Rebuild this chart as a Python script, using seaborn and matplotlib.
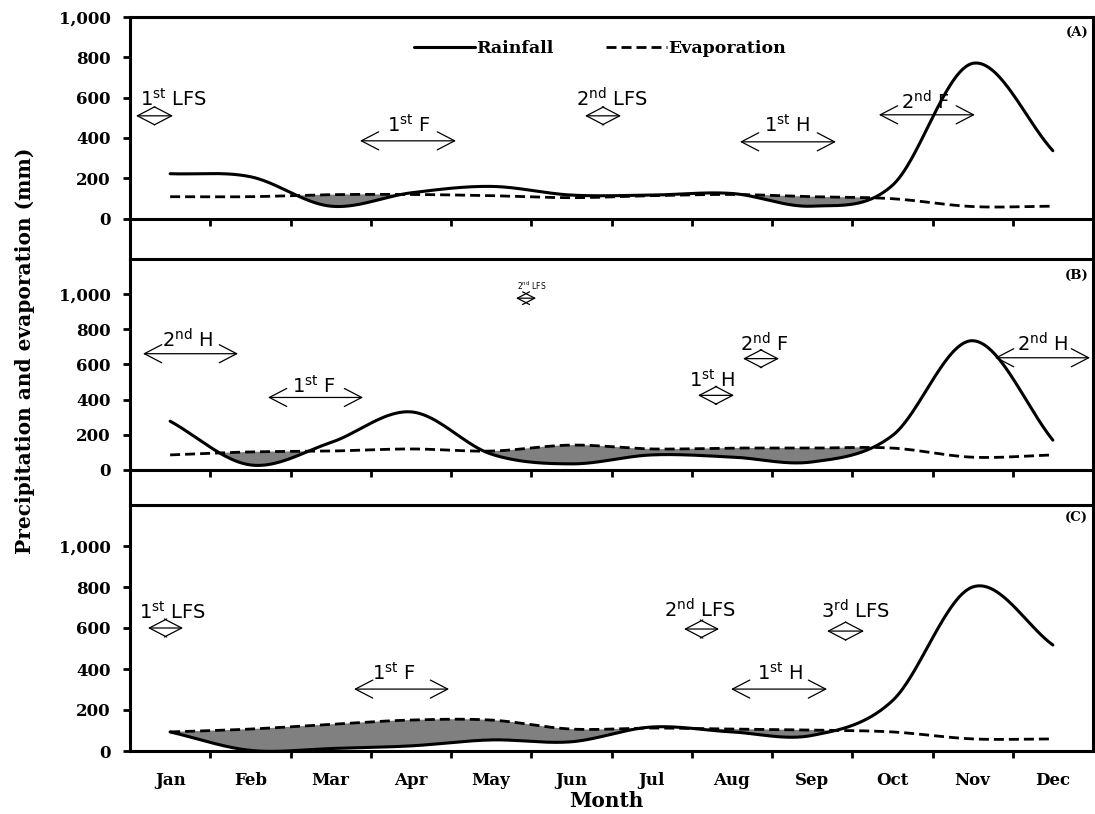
import numpy as np
import matplotlib
matplotlib.use("Agg")
import matplotlib.pyplot as plt
import seaborn as sns

# ---------------- data ----------------
months = ["Jan", "Feb", "Mar", "Apr", "May", "Jun", "Jul", "Aug", "Sep", "Oct", "Nov", "Dec"]

rain_a = [223, 208, 62, 128, 160, 117, 117, 125, 62, 165, 770, 337]
evap_a = [109, 109, 119, 120, 114, 104, 114, 120, 109, 99, 60, 62]

rain_b = [277, 28, 155, 330, 90, 34, 85, 73, 45, 195, 735, 169]
evap_b = [85, 102, 107, 119, 107, 141, 119, 124, 124, 124, 72, 85]

rain_c = [93, 3, 12, 25, 54, 45, 117, 93, 76, 245, 800, 517]
evap_c = [93, 107, 130, 151, 151, 107, 112, 107, 102, 93, 59, 59]

ytick_vals = [0, 200, 400, 600, 800, 1000]
ytick_labels = ["0", "200", "400", "600", "800", "1,000"]
panel_tags = ["(A)", "(B)", "(C)"]
legend_labels = ["Rainfall", "Evaporation"]

# crop-stage annotations: (label, text x, text baseline y, arrow start, arrow end, arrow y)
stages_a = [
    ("1$^{st}$ LFS", 0.04, 559, -0.425, 0.036, 510),
    ("1$^{st}$ F", 2.97, 431, 2.366, 3.562, 386),
    ("2$^{nd}$ LFS", 5.51, 554, 5.170, 5.619, 510),
    ("1$^{st}$ H", 7.69, 431, 7.101, 8.297, 381),
    ("2$^{nd}$ F", 9.41, 540, 8.832, 10.028, 515),
]
stages_b = [
    ("2$^{nd}$ H", 0.22, 695, -0.338, 0.846, 661),
    ("1$^{st}$ F", 1.79, 441, 1.220, 2.404, 412),
    ("2$^{nd}$ LFS", 4.51, 1023, 4.310, 4.560, 977),
    ("1$^{st}$ H", 6.75, 475, 6.578, 7.027, 424),
    ("2$^{nd}$ F", 7.40, 672, 7.139, 7.587, 633),
    ("2$^{nd}$ H", 10.87, 672, 10.279, 11.463, 638),
]
stages_c = [
    ("1$^{st}$ LFS", 0.03, 644, -0.276, 0.161, 600),
    ("1$^{st}$ F", 2.79, 346, 2.292, 3.476, 302),
    ("2$^{nd}$ LFS", 6.60, 649, 6.404, 6.840, 595),
    ("3$^{rd}$ LFS", 8.54, 644, 8.186, 8.647, 585),
    ("1$^{st}$ H", 7.60, 346, 6.990, 8.186, 302),
]


def smooth(vals, n=60):
    """Catmull-Rom style smoothing (like a spreadsheet 'smoothed line')."""
    p = np.asarray(vals, float)
    m = np.empty_like(p)
    m[1:-1] = (p[2:] - p[:-2]) / 2.0
    m[0] = (p[1] - p[0])
    m[-1] = (p[-1] - p[-2])
    xs, ys = [], []
    for i in range(len(p) - 1):
        t = np.linspace(0, 1, n, endpoint=(i == len(p) - 2))
        h00 = 2 * t**3 - 3 * t**2 + 1
        h10 = t**3 - 2 * t**2 + t
        h01 = -2 * t**3 + 3 * t**2
        h11 = t**3 - t**2
        xs.append(i + t)
        ys.append(h00 * p[i] + h10 * m[i] + h01 * p[i + 1] + h11 * m[i + 1])
    return np.concatenate(xs), np.concatenate(ys)


# ---------------- style ----------------
sns.set_theme(style="white")
plt.rcParams["font.family"] = ["DejaVu Sans"]
plt.rcParams["mathtext.default"] = "regular"
for key in ["text.color", "axes.labelcolor", "xtick.color", "ytick.color", "axes.edgecolor"]:
    plt.rcParams[key] = "black"

serif_bold = dict(family="DejaVu Serif", weight="bold")

W, H = 1095, 814
fig = plt.figure(figsize=(W / 100, H / 100), dpi=100)

left_px, right_px = 130, 1093
panels_px = [(17, 259), (259, 505), (505, 751)]
ylims = [(-200, 1000), (-200, 1200), (0, 1200)]
datasets = [(rain_a, evap_a, stages_a), (rain_b, evap_b, stages_b), (rain_c, evap_c, stages_c)]
tag_y = [0.938, 0.935, 0.951]

axes = []
for k, ((top, bot), ylim, (rain, evap, stages)) in enumerate(zip(panels_px, ylims, datasets)):
    ax = fig.add_axes([left_px / W, 1 - bot / H, (right_px - left_px) / W, (bot - top) / H])
    axes.append(ax)

    xr, yr = smooth(rain)
    xe, ye = smooth(evap)

    ax.fill_between(xr, yr, ye, where=ye > yr, interpolate=True,
                    color="#808080", lw=0, zorder=1)
    sns.lineplot(x=xr, y=yr, ax=ax, color="black", lw=2.2, estimator=None,
                 sort=False, zorder=3, label=legend_labels[0] if k == 0 else None)
    sns.lineplot(x=xe, y=ye, ax=ax, color="black", lw=2.0, estimator=None,
                 sort=False, zorder=2, label=legend_labels[1] if k == 0 else None)
    ax.lines[-1].set_dashes((3.6, 1.8))

    ax.set_xlim(-0.5, 11.5)
    ax.set_ylim(*ylim)

    for s in ax.spines.values():
        s.set_linewidth(2.2)
        s.set_color("black")
        s.set_visible(True)
    if k < 2:
        ax.spines["bottom"].set_position(("data", 0))

    ax.set_yticks(ytick_vals)
    ax.set_yticklabels(ytick_labels, fontdict=dict(size=12, color="black", **serif_bold))
    ax.tick_params(axis="y", direction="out", length=5, width=2, pad=9, left=True,
                   colors="black")

    ax.set_xticks(range(len(months)))
    ax.set_xticks(np.arange(0.5, len(months) - 1, 1.0), minor=True)
    ax.tick_params(axis="x", which="major", length=0, pad=15, colors="black")
    ax.tick_params(axis="x", which="minor", direction="out", length=5, width=2, bottom=True,
                   colors="black")
    if k == 2:
        ax.set_xticklabels(months, fontdict=dict(size=12, color="black", **serif_bold))
    else:
        ax.tick_params(axis="x", which="major", labelbottom=False)
    ax.set_xlabel("")
    ax.set_ylabel("")
    ax.grid(False)

    ax.text(0.995, tag_y[k], panel_tags[k], transform=ax.transAxes, ha="right",
            va="center", fontsize=9.5, color="black", **serif_bold)

    for (lab, tx, ty, a0, a1, ay) in stages:
        small = (a1 - a0) < 0.3
        ax.annotate("", xy=(a0, ay), xytext=(a1, ay),
                    arrowprops=dict(arrowstyle="<->,head_length=1.25,head_width=0.65",
                                    mutation_scale=10 if not small else 7,
                                    color="black", lw=0.9, shrinkA=0, shrinkB=0),
                    zorder=4)
        ax.text(tx, ty, lab, ha="center", va="baseline",
                fontsize=14 if not small else 5.5, color="black", zorder=4)

leg = axes[0].legend(loc="center", bbox_to_anchor=(0.488, 0.868), ncol=2, frameon=False,
                     handlelength=3.5, handletextpad=0.1, columnspacing=3.0,
                     prop=dict(size=12.5, **serif_bold))
for t in leg.get_texts():
    t.set_color("black")

fig.text(25 / W, 1 - 351 / H, "Precipitation and evaporation (mm)", rotation=90,
         ha="center", va="center", fontsize=14.5, color="black", **serif_bold)
fig.text(606 / W, 1 - 801 / H, "Month", ha="center", va="center", fontsize=14.5,
         color="black", **serif_bold)

fig.savefig("out.png", dpi=100)
